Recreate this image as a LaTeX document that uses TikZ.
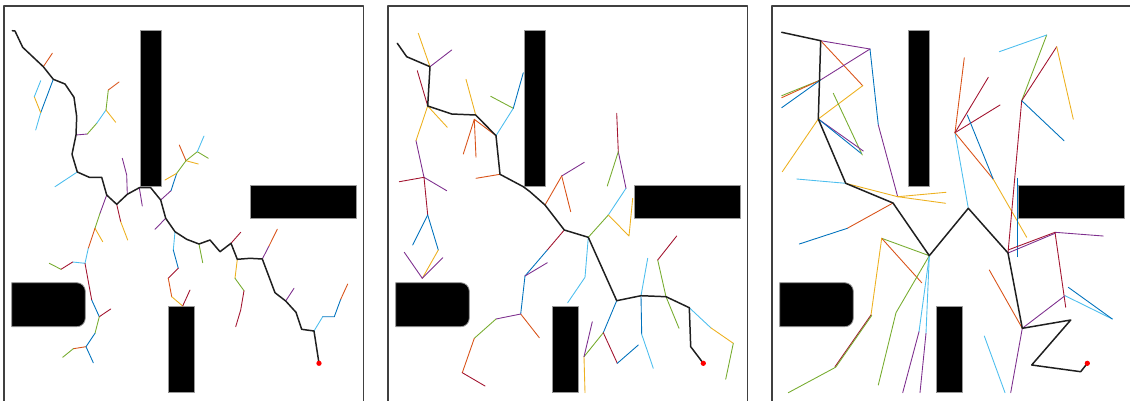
\documentclass[tikz,border=0pt]{standalone}
\usepackage{tikz}
\definecolor{mBlue}{rgb}{0,0.447,0.741}
\definecolor{mOrange}{rgb}{0.85,0.325,0.098}
\definecolor{mYellow}{rgb}{0.929,0.694,0.125}
\definecolor{mPurple}{rgb}{0.494,0.184,0.556}
\definecolor{mGreen}{rgb}{0.466,0.674,0.188}
\definecolor{mCyan}{rgb}{0.301,0.745,0.933}
\definecolor{mRed}{rgb}{0.635,0.078,0.184}

\begin{document}
\begin{tikzpicture}[x=0.02cm, y=-0.02cm, line join=round, line cap=round,
  frame/.style={draw=black!75, line width=0.6pt},
  obst/.style={fill=black, draw=black!40, line width=0.45pt},
  sol/.style={draw=black!88, line width=0.85pt},
  bBlu/.style={draw=mBlue, line width=0.5pt},
  bOra/.style={draw=mOrange, line width=0.5pt},
  bYel/.style={draw=mYellow, line width=0.5pt},
  bPur/.style={draw=mPurple, line width=0.5pt},
  bGrn/.style={draw=mGreen, line width=0.5pt},
  bCya/.style={draw=mCyan, line width=0.5pt},
  bRed/.style={draw=mRed, line width=0.5pt},
  goal/.style={circle, fill=red, inner sep=0pt, minimum size=3pt}]
\useasboundingbox (0,0) rectangle (1130,400);
\clip (0,0) rectangle (1130,400);
% map and obstacles, same in all three panels
\foreach \dx in {0,384,768} {
\begin{scope}[shift={(\dx,0)}]
\draw[frame] (4,6) rectangle (363.3,420);
\filldraw[obst] (140.7,30) rectangle (161,186);
\filldraw[obst] (250.7,185.7) rectangle (356,218.3);
\filldraw[obst] (168.3,306.7) rectangle (194.3,392.7);
\filldraw[obst] (11.7,282.7) [rounded corners=0.17cm] -- (85.3,282.7) -- (85.3,326.7) [sharp corners] -- (11.7,326.7) -- cycle;
\end{scope}}

% panel 1
\draw[bOra] (43.3,66.7) -- (52.3,53.3);
\draw[bBlu] (53.3,79.3) -- (40.7,112.7); \draw[bCya] (40.7,112.7) -- (35.7,130);
\draw[bYel] (40.7,112.7) -- (34.3,96.7); \draw[bCya] (34.3,96.7) -- (40.7,80.7);
\draw[bPur] (76,135) -- (87.3,134); \draw[bGrn] (87.3,134) -- (96.7,123.3); \draw[bCya] (96.7,123.3) -- (106,110);
\draw[bGrn] (106,110) -- (108.3,90); \draw[bOra] (108.3,90) -- (119,82); \draw[bYel] (106,110) -- (115.7,122.3);
\draw[bCya] (77.3,172) -- (55,186.7);
\draw[bPur] (127.3,194.3) -- (126.7,175) -- (122.3,158.3);
\draw[bPur] (139.3,187.7) -- (142.3,206);
\draw[bRed] (116.7,204.3) -- (120.7,221.7); \draw[bYel] (120.7,221.7) -- (127.7,240);
\draw[bPur] (106.7,195) -- (100,213.3); \draw[bGrn] (100,213.3) -- (95,228.3);
\draw[bYel] (95,228.3) -- (102.7,241.7); \draw[bOra] (95,228.3) -- (88.3,248.3); \draw[bCya] (88.3,248.3) -- (85,263.3);
\draw[bCya] (85,263.3) -- (72.7,262); \draw[bRed] (72.7,262) -- (61,269.3); \draw[bGrn] (61,269.3) -- (49.3,263.3);
\draw[bRed] (85,263.3) -- (91.7,300); \draw[bBlu] (91.7,300) -- (99.3,316.7); \draw[bRed] (99.3,316.7) -- (110.7,309);
\draw[bGrn] (99.3,316.7) -- (95,333.3); \draw[bBlu] (95,333.3) -- (86,346.7); \draw[bBlu] (86,346.7) -- (93.3,362.7);
\draw[bOra] (86,346.7) -- (73.3,348.7); \draw[bGrn] (73.3,348.7) -- (62.7,357.3);
\draw[bPur] (160.7,200) -- (171,190.7); \draw[bBlu] (171,190.7) -- (176.7,173.3); \draw[bYel] (176.7,173.3) -- (165,180);
\draw[bGrn] (176.7,173.3) -- (186,160.7); \draw[bOra] (186,160.7) -- (179.3,145); \draw[bYel] (186,160.7) -- (198.3,164);
\draw[bGrn] (186,160.7) -- (197.3,151.7) -- (208.3,158.3); \draw[bCya] (197.3,151.7) -- (204,136);
\draw[bPur] (165.7,218.3) -- (155,229.3);
\draw[bCya] (175,231.7) -- (173.3,250); \draw[bBlu] (173.3,250) -- (178.3,268.3); \draw[bRed] (178.3,268.3) -- (168.3,278.3);
\draw[bOra] (168.3,278.3) -- (171.7,296.7); \draw[bYel] (171.7,296.7) -- (182.7,306); \draw[bRed] (182.7,306) -- (190,290);
\draw[bGrn] (199,244) -- (202.7,262.7);
\draw[bRed] (231,243.3) -- (240.7,232.3);
\draw[bYel] (237.3,259.3) -- (235,278.3); \draw[bGrn] (235,278.3) -- (244,290.7); \draw[bRed] (244,290.7) -- (240.7,310) -- (235.7,326.7);
\draw[bPur] (262.3,259) -- (269,246); \draw[bOra] (269,246) -- (277.3,229.3);
\draw[bPur] (285.7,301) -- (294,288.3);
\draw[bCya] (314,331) -- (322.7,316.7); \draw[bBlu] (322.7,316.7) -- (334.3,316.7) -- (340.7,299.3); \draw[bOra] (340.7,299.3) -- (347.7,284);
\draw[sol] (12.3,30.7) -- (15,31) -- (22.7,47.3) -- (43.3,66.7) -- (53.3,79.3) -- (65,84) -- (74,97.3) -- (76.7,116.7) -- (76,135) -- (72,154.3) -- (77.3,172) -- (89.3,177.3) -- (101.7,177.3) -- (106.7,195) -- (116.7,204.3) -- (127.3,194.3) -- (139.3,187.7) -- (150.7,187.7) -- (160.7,200) -- (165.7,218.3) -- (175,231.7) -- (186.7,239.3) -- (199,244) -- (210,240) -- (220,251.7) -- (231,243.3) -- (237.3,259.3) -- (250,258.3) -- (262.3,259) -- (275,292.7) -- (285.7,301) -- (296,312.3) -- (301.7,329.3) -- (314,331) -- (319,363.3);
\node[goal] (g1) at (319,363.3) {};

% panel 2
\draw[bYel] (418.3,33.3) -- (430,66.7); \draw[bPur] (430,66.7) -- (451.7,50);
\draw[bRed] (417.3,70.7) -- (427.7,106);
\draw[bYel] (427.7,106) -- (447.3,127.3);
\draw[bYel] (427.7,106) -- (416,140.7); \draw[bPur] (416,140.7) -- (424,177.3); \draw[bRed] (424,177.3) -- (399.3,181.7);
\draw[bPur] (424,177.3) -- (446.7,190.7); \draw[bRed] (424,177.3) -- (427.7,215);
\draw[bBlu] (427.7,215) -- (412.7,245); \draw[bBlu] (427.7,215) -- (438.3,250); \draw[bYel] (438.3,250) -- (422.3,278.3);
\draw[bPur] (422.3,278.3) -- (404.3,252.3); \draw[bPur] (422.3,278.3) -- (442.7,257.7);
\draw[bYel] (466,79.3) -- (475.7,115);
\draw[bOra] (496,135.7) -- (474.3,119.3) -- (463.3,154); \draw[bOra] (474.3,119.3) -- (476,157.3);
\draw[bCya] (496,135.7) -- (513.3,108.3); \draw[bGrn] (513.3,108.3) -- (490.7,96.3); \draw[bBlu] (513.3,108.3) -- (523.3,72.7);
\draw[bOra] (500,174.3) -- (476,178.3);
\draw[bOra] (545,205) -- (561.7,176); \draw[bPur] (561.7,176) -- (584.3,162.3); \draw[bOra] (561.7,176) -- (570.7,211.7);
\draw[bRed] (564.3,230) -- (547.3,250); \draw[bBlu] (547.3,250) -- (525,276); \draw[bPur] (525,276) -- (547.3,262.7);
\draw[bBlu] (525,276) -- (520.7,314); \draw[bOra] (520.7,314) -- (539.3,337.7); \draw[bPur] (520.7,314) -- (496,319);
\draw[bGrn] (496,319) -- (474.3,338.3); \draw[bOra] (474.3,338.3) -- (462.3,372.7); \draw[bRed] (462.3,372.7) -- (485,386);
\draw[bGrn] (588.3,237.3) -- (608.3,215); \draw[bCya] (608.3,215) -- (626,188.3); \draw[bPur] (626,188.3) -- (618.3,151.7);
\draw[bRed] (618.3,151.7) -- (616.7,113.3); \draw[bGrn] (618.3,151.7) -- (607.3,186);
\draw[bYel] (608.3,215) -- (629,236) -- (632.7,198.3);
\draw[bCya] (588.3,237.3) -- (585,277.3) -- (567.7,302.7);
\draw[bBlu] (616.7,300.7) -- (603.3,332.7); \draw[bGrn] (603.3,332.7) -- (584,356.7); \draw[bYel] (584,356.7) -- (585,392.7);
\draw[bPur] (584,356.7) -- (592.3,321.7); \draw[bRed] (603.3,332.7) -- (617.3,363.3); \draw[bBlu] (617.3,363.3) -- (638.3,345);
\draw[bBlu] (641,295.7) -- (641.7,334.3); \draw[bCya] (641.7,334.3) -- (653.3,368.3); \draw[bCya] (641,295.7) -- (647.7,258.3);
\draw[bGrn] (666,296.7) -- (657.7,260); \draw[bRed] (657.7,260) -- (676.7,236); \draw[bGrn] (666,296.7) -- (679,328.3);
\draw[bCya] (689.3,307.7) -- (710.7,327.7); \draw[bYel] (710.7,327.7) -- (733.3,343.3); \draw[bGrn] (733.3,343.3) -- (725.7,379.3);
\draw[sol] (397.3,43.3) -- (406.7,56.7) -- (430,66.7) -- (427.7,106) -- (451.7,114) -- (475.7,115) -- (496,135.7) -- (500,174.3) -- (523.3,186.7) -- (530,191.7) -- (545,205) -- (564.3,230) -- (588.3,237.3) -- (616.7,300.7) -- (641,295.7) -- (666,296.7) -- (689.3,307.7) -- (690.7,346.7) -- (703.3,363.3);
\node[goal] (g2) at (703.3,363.3) {};

% panel 3
\draw[bPur] (820.7,40.7) -- (870,49); \draw[bBlu] (870,49) -- (878.3,125); \draw[bPur] (878.3,125) -- (897.7,196.7);
\draw[bYel] (845.7,183.3) -- (897.7,196.7) -- (946,192.3); \draw[bYel] (897.7,196.7) -- (945.7,203.3);
\draw[bOra] (820.7,40.7) -- (862.7,85.7); \draw[bYel] (862.7,85.7) -- (818.3,119) -- (782.3,171.7);
\draw[bPur] (870,49) -- (820.5,80); \draw[bGrn] (820.5,80) -- (781.7,95.7); \draw[bOra] (820.5,80) -- (781.7,97.7);
\draw[bBlu] (820.5,80) -- (781.7,107.7);
\draw[bGrn] (833.3,93.3) -- (862.3,155);
\draw[bPur] (818.3,119) -- (863.3,151); \draw[bBlu] (818.3,119) -- (861,153.3);
\draw[bCya] (845.7,183.3) -- (796.7,179);
\draw[bOra] (893,203) -- (847.3,228.3); \draw[bBlu] (847.3,228.3) -- (799.3,244);
\draw[bGrn] (929.3,255.7) -- (881.7,238.3); \draw[bOra] (881.7,238.3) -- (921.7,282.7); \draw[bYel] (881.7,238.3) -- (871,315);
\draw[bRed] (871,315) -- (835,366.7); \draw[bGrn] (871.7,315.5) -- (835.7,367.2) -- (788.3,392.7);
\draw[bGrn] (929.3,255.7) -- (896,312.7) -- (878.3,385);
\draw[bCya] (929.3,255.7) -- (919,331.7); \draw[bPur] (919,331.7) -- (902.7,392.7);
\draw[bCya] (929.3,255.7) -- (926,333.3); \draw[bPur] (926,333.3) -- (920,392.7);
\draw[bCya] (968.3,208.3) -- (955,132.7); \draw[bOra] (955,132.7) -- (964.3,57.7);
\draw[bRed] (955,132.7) -- (988.3,77.3); \draw[bRed] (955,132.7) -- (1000,105);
\draw[bOra] (955,132.7) -- (993.3,179.3); \draw[bBlu] (967.3,115) -- (993.3,179.3); \draw[bYel] (993.3,179.3) -- (1026.7,237.3);
\draw[bRed] (1008,253) -- (1021.7,100.7);
\draw[bGrn] (1021.7,100.7) -- (1046.7,35); \draw[bCya] (1046.7,35) -- (999.3,51.7);
\draw[bRed] (1021.7,100.7) -- (1056.7,46.7); \draw[bYel] (1056.7,46.7) -- (1073.3,119.3); \draw[bBlu] (1021.7,100.7) -- (1064,140.7);
\draw[bBlu] (1017.3,178.3) -- (1017.3,256.7);
\draw[bRed] (1008,250) -- (1055,232.3); \draw[bPur] (1008,253) -- (1055,233.3);
\draw[bPur] (1055,232.3) -- (1103.3,236); \draw[bRed] (1055,232.3) -- (1065.7,307.3);
\draw[bPur] (1022.3,328.3) -- (1065,295.7); \draw[bCya] (1065,295.7) -- (1112.3,319); \draw[bBlu] (1068.3,287.3) -- (1112.3,319);
\draw[bOra] (1022.3,328.3) -- (989.3,270);
\draw[bPur] (1022.3,328.3) -- (1010.7,392.7);
\draw[bCya] (984.3,336) -- (1005,392.7);
\draw[sol] (781.7,32.3) -- (820.7,40.7) -- (818.3,119) -- (845.7,183.3) -- (893,203) -- (929.3,255.7) -- (968.3,208.3) -- (1008,253) -- (1022.3,328.3) -- (1070.7,320) -- (1031.7,365) -- (1080.7,371.7) -- (1087.3,363.3);
\node[goal] (g3) at (1087.3,363.3) {};
\end{tikzpicture}
\end{document}
